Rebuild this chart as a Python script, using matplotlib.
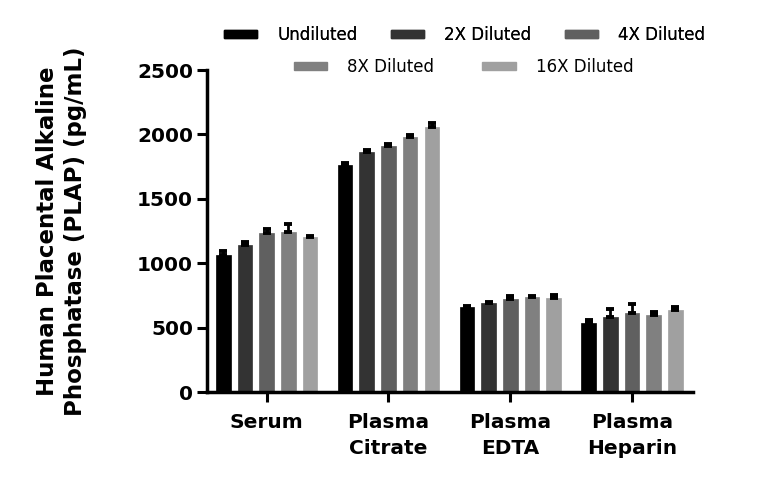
import matplotlib
matplotlib.use("Agg")
import matplotlib.pyplot as plt
import numpy as np
from matplotlib.patches import Patch

categories = ["Serum", "Plasma\nCitrate", "Plasma\nEDTA", "Plasma\nHeparin"]
series_names = ["Undiluted", "2X Diluted", "4X Diluted", "8X Diluted", "16X Diluted"]
colors = ["#000000", "#333333", "#606060", "#808080", "#a0a0a0"]

undiluted = [1060, 1762, 657, 538]
dil_2x = [1141, 1866, 688, 582]
dil_4x = [1237, 1912, 725, 616]
dil_8x = [1245, 1980, 735, 600]
dil_16x = [1206, 2055, 727, 639]

err_undiluted = [35, 16, 13, 21]
err_2x = [24, 13, 11, 62]
err_4x = [29, 11, 20, 64]
err_8x = [59, 18, 12, 19]
err_16x = [8, 33, 26, 23]

values = [undiluted, dil_2x, dil_4x, dil_8x, dil_16x]
errors = [err_undiluted, err_2x, err_4x, err_8x, err_16x]

plt.rcParams['font.family'] = ['DejaVu Sans']

fig = plt.figure(figsize=(7.68, 4.86), dpi=100)
ax = fig.add_axes([207/768, 1-392/486, (693-207)/768, (392-70)/486])

x = np.arange(len(categories))
pitch = 0.178
width = 0.12
for i, (vals, errs, c) in enumerate(zip(values, errors, colors)):
    pos = x + (i - 2) * pitch
    ax.bar(pos, vals, width=width, color=c, edgecolor=c, linewidth=0.5, zorder=2)
    ax.errorbar(pos, vals, yerr=[np.zeros(len(errs)), errs], fmt='none',
                ecolor='black', elinewidth=2, capsize=3.2, capthick=2.8, zorder=3)

ax.set_xlim(-0.49, 3.5)
ax.set_ylim(0, 2500)
ax.set_yticks([0, 500, 1000, 1500, 2000, 2500])
ax.set_xticks(x)
ax.set_xticklabels(categories, fontsize=14.5, fontweight='bold', linespacing=1.45)
ax.tick_params(axis='y', labelsize=14.5, width=2.2, length=7, pad=3)
for lbl in ax.get_yticklabels():
    lbl.set_fontweight('bold')
ax.tick_params(axis='x', width=2.2, length=7, pad=8)
for s in ['top', 'right']:
    ax.spines[s].set_visible(False)
for s in ['left', 'bottom']:
    ax.spines[s].set_linewidth(2.5)

ax.set_ylabel("Human Placental Alkaline\nPhosphatase (PLAP) (pg/mL)",
              fontsize=16.5, fontweight='bold', labelpad=36, linespacing=1.3)

handles = [Patch(facecolor=c, edgecolor=c) for c in colors]
leg1 = fig.legend(handles[:3], series_names[:3], loc='center', bbox_to_anchor=(464.5/768, 1-35/486),
                  ncol=3, frameon=False, fontsize=12, handlelength=2.0, handleheight=0.35,
                  handletextpad=1.2, columnspacing=2.0)
leg2 = fig.legend(handles[3:], series_names[3:], loc='center', bbox_to_anchor=(463.5/768, 1-67/486),
                  ncol=2, frameon=False, fontsize=12, handlelength=2.0, handleheight=0.35,
                  handletextpad=1.2, columnspacing=2.9)
fig.add_artist(leg1)

fig.savefig("out.png", dpi=100)
